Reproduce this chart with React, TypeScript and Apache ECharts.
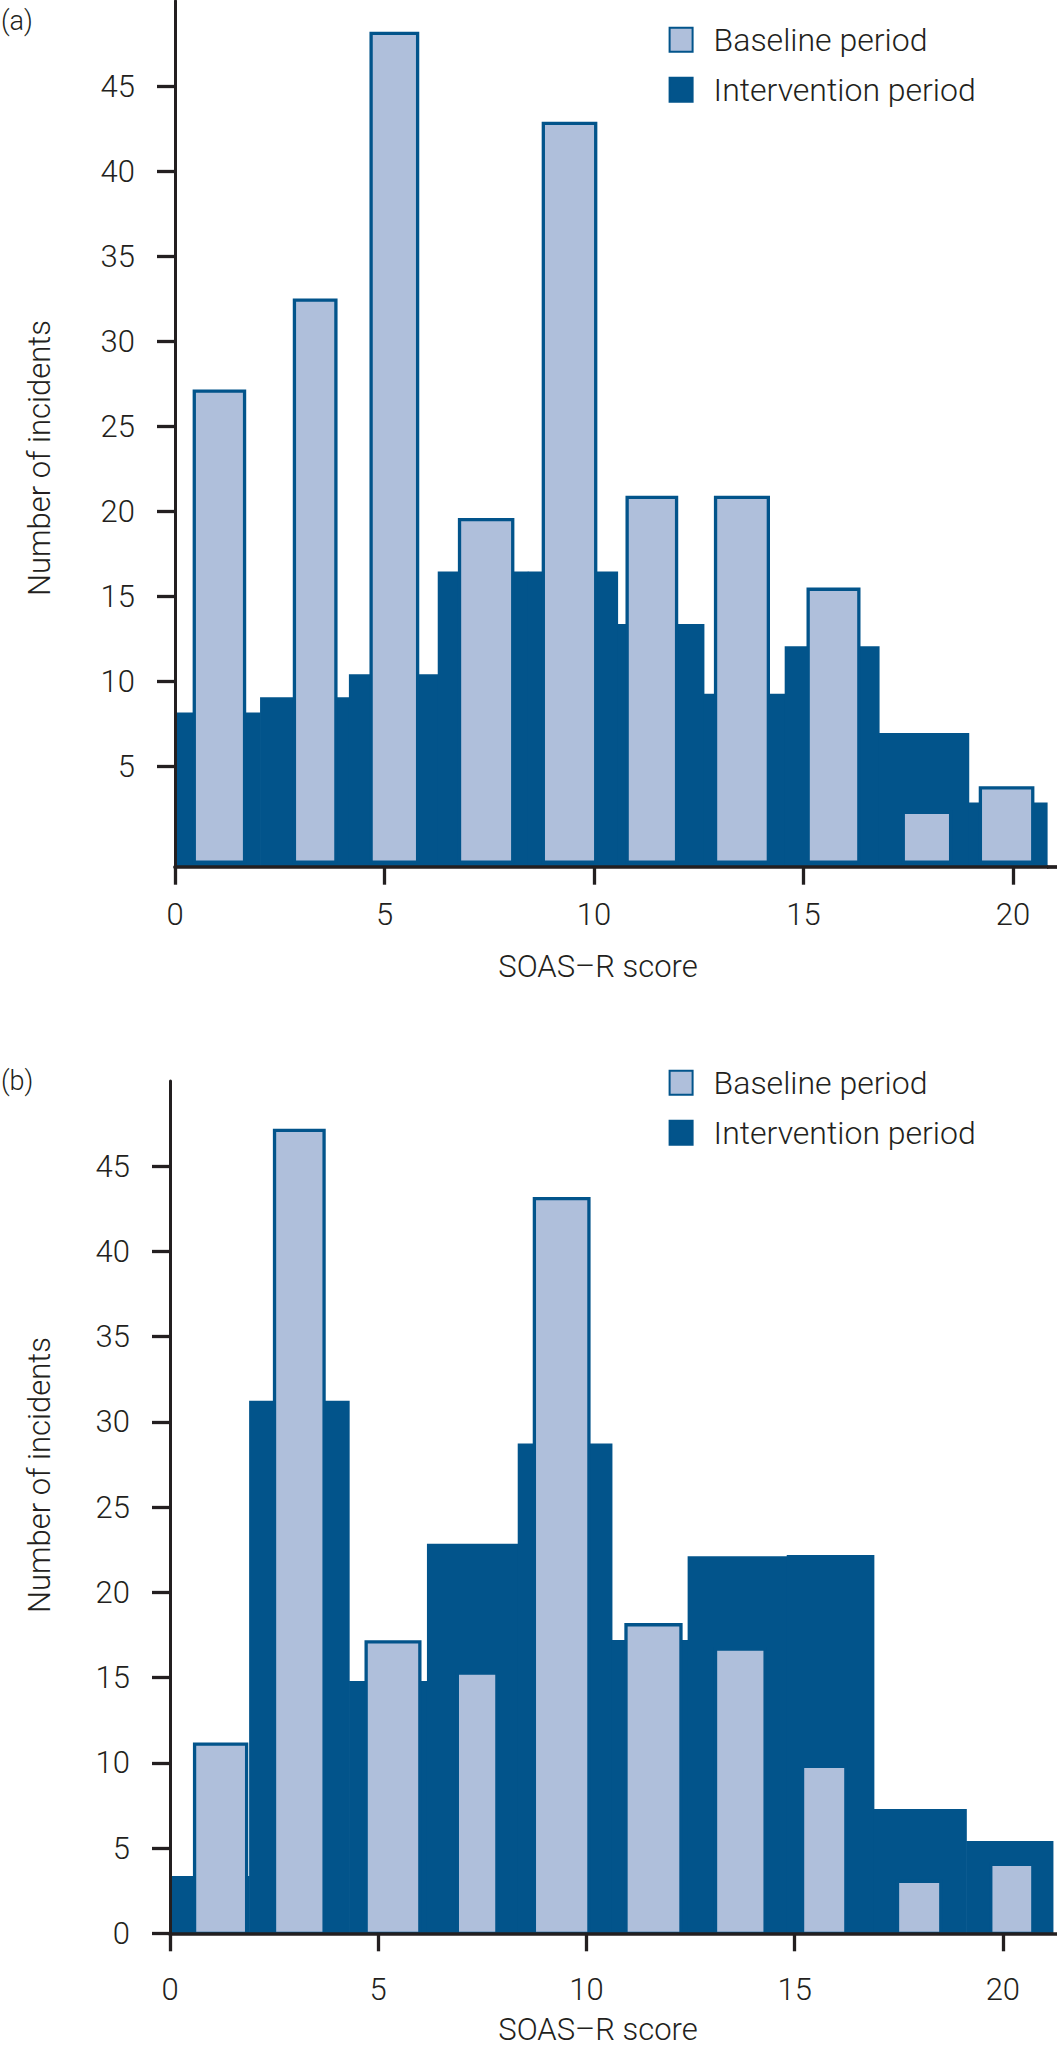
import React, { useEffect, useRef } from "react";
import * as echarts from "echarts";

const DARK = "#02548b";
const LIGHT = "#afbfdb";
const INK = "#231f20";
const FONT = "Roboto, 'Open Sans', sans-serif";

// (a) intervention period: contiguous bins (edges) and counts
const aIntEdges = [0, 2.03, 4.15, 6.27, 8.42, 10.56, 12.62, 14.55, 16.8, 18.94, 20.81];
const aIntCounts = [8.15, 9.05, 10.4, 16.45, 16.45, 13.35, 9.25, 12.05, 6.95, 2.85];
// (a) baseline period
const aBaseStart = [0.46, 2.85, 4.68, 6.79, 8.79, 10.79, 12.9, 15.11, 17.38, 19.22];
const aBaseEnd = [1.66, 3.84, 5.79, 8.06, 10.04, 11.97, 14.16, 16.32, 18.51, 20.47];
const aBaseCounts = [27.05, 32.4, 48.1, 19.5, 42.8, 20.8, 20.8, 15.4, 2.28, 3.72];

// (b) intervention period
const bIntEdges = [0, 1.9, 4.3, 6.17, 8.35, 10.61, 12.43, 14.81, 16.9, 19.12, 21.2];
const bIntCounts = [3.36, 31.24, 14.8, 22.85, 28.73, 17.2, 22.12, 22.2, 7.29, 5.42];
// (b) baseline period
const bBaseStart = [0.59, 2.51, 4.71, 6.9, 8.75, 10.95, 13.1, 15.19, 17.47, 19.71];
const bBaseEnd = [1.84, 3.7, 6.0, 7.85, 10.06, 12.27, 14.29, 16.23, 18.51, 20.72];
const bBaseCounts = [11.1, 47.1, 17.1, 15.26, 43.1, 18.1, 16.67, 9.8, 3.05, 4.05];

const xTicks = [0, 5, 10, 15, 20];
const aYTicks = [5, 10, 15, 20, 25, 30, 35, 40, 45];
const bYTicks = [0, 5, 10, 15, 20, 25, 30, 35, 40, 45];

const A_MIN = -0.92;
const A_BASE_FLOOR = -0.65;

const textStyle = { color: INK, fontFamily: FONT, fontWeight: 300 as const };

// rows of [start, end, count, floor]
const fromEdges = (edges: number[], counts: number[], floor: number) =>
  counts.map((c, i) => [edges[i], edges[i + 1], c, floor]);
const fromRanges = (start: number[], end: number[], counts: number[], floor: number) =>
  counts.map((c, i) => [start[i], end[i], c, floor]);

const barItem = (outlined: boolean) => (params: any, api: any) => {
  const p0 = api.coord([api.value(0), api.value(2)]);
  const p1 = api.coord([api.value(1), api.value(3)]);
  // filled bins overlap by half a pixel so no seams show between neighbours
  const extra = outlined ? 0 : 0.6;
  return {
    type: "rect",
    shape: { x: p0[0], y: p0[1], width: p1[0] - p0[0] + extra, height: p1[1] - p0[1] },
    style: outlined ? api.style() : { fill: DARK },
  };
};

const xAxisOf = (gridIndex: number, max: number, margin: number) => ({
  gridIndex,
  type: "value",
  min: 0,
  max,
  z: 3,
  axisLine: { onZero: false, lineStyle: { color: INK, width: 3.7 } },
  axisTick: { length: 18, customValues: xTicks, lineStyle: { color: INK, width: 3.3 } },
  axisLabel: { customValues: xTicks, margin, fontSize: 31, ...textStyle },
  splitLine: { show: false },
});

const yAxisOf = (gridIndex: number, min: number, ticks: number[]) => ({
  gridIndex,
  type: "value",
  min,
  max: 50,
  z: 3,
  axisLine: { show: true, lineStyle: { color: INK, width: 3 } },
  axisTick: { show: true, length: 18, customValues: ticks, lineStyle: { color: INK, width: 3.3 } },
  axisLabel: { customValues: ticks, margin: 40, fontSize: 31, ...textStyle },
  splitLine: { show: false },
});

// short stub of the x axis line to the left of the y axis
const stubAxisOf = (gridIndex: number, min: number, length: number) => ({
  gridIndex,
  type: "value",
  min,
  max: 50,
  z: 3,
  axisLine: { show: false },
  axisTick: { show: true, length, customValues: [min], lineStyle: { color: INK, width: 3.7 } },
  axisLabel: { show: false },
  splitLine: { show: false },
});

const legendOf = (top: number) => ({
  left: 668.6,
  top,
  orient: "vertical",
  padding: 0,
  itemGap: 18,
  itemWidth: 23,
  itemHeight: 24,
  icon: "rect",
  selectedMode: false,
  textStyle: { fontSize: 32, lineHeight: 32, padding: [0, 0, 0, 16], ...textStyle },
  data: ["Baseline period", "Intervention period"],
});

const baseStyle = { color: LIGHT, borderColor: DARK, borderWidth: 3.3 };
const intStyle = { color: DARK, borderColor: DARK, borderWidth: 3.3 };

const label = (text: string, x: number, y: number, size: number) => ({
  type: "text",
  x,
  y,
  style: { text, fontSize: size, fill: INK, fontFamily: FONT, fontWeight: 300, align: "left", verticalAlign: "top" },
});

const App: React.FC = () => {
  const chartRef = useRef<HTMLDivElement>(null);

  useEffect(() => {
    if (!chartRef.current) return;
    const chart = echarts.init(chartRef.current, undefined, { renderer: "svg" });

    const yName = (y: number) => ({
      type: "text",
      x: 39.5,
      y,
      rotation: Math.PI / 2,
      style: { text: "Number of incidents", fontSize: 31, fill: INK, fontFamily: FONT, fontWeight: 300, align: "center", verticalAlign: "middle" },
    });
    const xName = (y: number) => ({
      type: "text",
      x: 598,
      y,
      style: { text: "SOAS–R score", fontSize: 31, fill: INK, fontFamily: FONT, fontWeight: 300, align: "center", verticalAlign: "top" },
    });

    chart.setOption({
      animation: false,
      grid: [
        { left: 175, top: 1, width: 872, height: 865.7, outerBoundsMode: "none" },
        { left: 170, top: 1081, width: 887, height: 852.3, outerBoundsMode: "none" },
      ],
      xAxis: [xAxisOf(0, 20.81, 32), xAxisOf(1, 21.3, 40.6)],
      yAxis: [
        yAxisOf(0, A_MIN, aYTicks),
        stubAxisOf(0, A_MIN, 25),
        yAxisOf(1, 0, bYTicks),
        stubAxisOf(1, 0, 28),
      ],
      legend: [legendOf(23.65), legendOf(1066.65)],
      series: [
        {
          type: "custom",
          name: "Intervention period",
          xAxisIndex: 0,
          yAxisIndex: 0,
          itemStyle: intStyle,
          renderItem: barItem(false),
          encode: { x: [0, 1], y: [2, 3] },
          data: fromEdges(aIntEdges, aIntCounts, A_MIN),
        },
        {
          type: "custom",
          name: "Baseline period",
          xAxisIndex: 0,
          yAxisIndex: 0,
          itemStyle: baseStyle,
          renderItem: barItem(true),
          encode: { x: [0, 1], y: [2, 3] },
          data: fromRanges(aBaseStart, aBaseEnd, aBaseCounts, A_BASE_FLOOR),
        },
        {
          type: "custom",
          name: "Intervention period",
          xAxisIndex: 1,
          yAxisIndex: 2,
          itemStyle: intStyle,
          renderItem: barItem(false),
          encode: { x: [0, 1], y: [2, 3] },
          data: fromEdges(bIntEdges, bIntCounts, 0),
        },
        {
          type: "custom",
          name: "Baseline period",
          xAxisIndex: 1,
          yAxisIndex: 2,
          itemStyle: baseStyle,
          renderItem: barItem(true),
          encode: { x: [0, 1], y: [2, 3] },
          data: fromRanges(bBaseStart, bBaseEnd, bBaseCounts, 0),
        },
      ],
      graphic: [
        label("(a)", 1, 7, 27),
        label("(b)", 1, 1067, 27),
        yName(458),
        yName(1475),
        xName(951),
        xName(2014),
      ],
    });

    return () => chart.dispose();
  }, []);

  return (
    <div
      ref={chartRef}
      style={{ position: "absolute", left: 0, top: 0, width: 1057, height: 2047, background: "#fff" }}
    />
  );
};

export default App;
